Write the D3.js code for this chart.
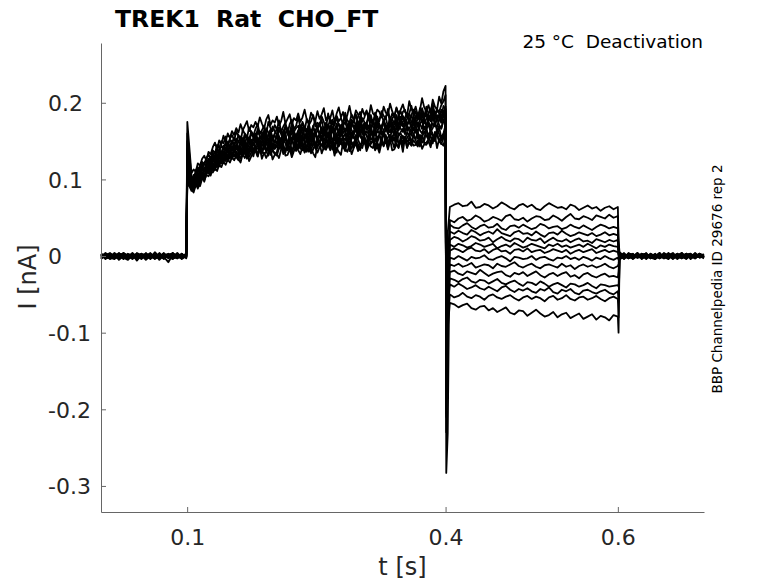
<!DOCTYPE html>
<html>
<head>
<meta charset="utf-8">
<script src="https://cdn.jsdelivr.net/npm/d3@7"></script>
<style>
  body { margin: 0; background: #fff; }
  svg { font-family: "DejaVu Sans", sans-serif; }
  .trace { fill: none; stroke: #000; stroke-width: 1.8; stroke-linejoin: round; }
</style>
</head>
<body>
<svg id="chart"></svg>
<script>
// chart size (browser window)
const width = 778;
const height = 583;
const plot = { left: 101, right: 704, top: 43, bottom: 512 };

// tick values
const xTicks = [0.1, 0.4, 0.6];
const yTicks = [-0.3, -0.2, -0.1, 0, 0.1, 0.2];

// protocol segments [start, end] in s
const preSpan = [0, 0.099];
const actSpan = [0.105, 0.4];
const deactSpan = [0.405, 0.6];
const postSpan = [0.602, 0.7];
const onTime = 0.1002;
const offTime = 0.4008;
const dipTime = 0.4025;
const endTime = 0.6008;

// currents in pA, one row per sweep
const sweepPre = [
  [1,-2,3,0,-4,2,-1,-3,4,1,-2,0,3,-5,1,2,-1,-3,2,0],
  [-3,0,2,-1,4,-2,-5,1,0,3,-1,2,-4,0,1,-2,4,-1,-3,1],
  [2,-1,-3,1,0,3,-2,2,-6,1,3,-1,0,-2,4,-3,1,0,2,-2],
  [0,3,-2,-4,2,1,-1,3,-2,-1,0,4,-3,2,-1,-8,2,1,-2,0],
  [-1,2,1,-3,-1,4,0,-2,3,-4,2,1,-2,0,3,-1,-4,2,1,-1],
  [3,-4,0,2,-2,-1,3,1,-3,2,-1,-2,5,-1,0,2,-3,1,-1,2],
  [-2,1,4,-1,1,-3,2,-4,0,1,-2,3,-1,-3,2,0,1,-2,3,-3],
  [1,0,-2,3,-5,0,1,2,-1,-3,4,-2,0,1,-4,2,3,-1,0,1],
  [-4,2,1,0,2,-1,-3,0,2,1,-5,0,2,-2,1,3,-2,0,-1,2],
  [2,-3,-1,4,0,-2,1,-1,3,-2,0,-1,-3,4,-2,1,0,2,-4,0],
  [0,1,-4,-1,3,2,-2,4,-1,0,-3,2,1,-1,-2,0,4,-3,1,-1],
  [-1,-2,2,1,-3,4,0,-1,-2,3,1,-4,2,0,3,-1,-2,1,0,3],
  [3,1,-1,-2,1,-4,2,0,1,-2,2,0,-1,3,-3,1,-1,4,-2,-1],
  [-2,4,0,-3,1,0,-2,3,-1,2,-1,1,-2,-1,0,2,-3,-1,3,-2]
];

const sweepOn = [175, 160, 150, 140, 130, 125, 120, 115, 110, 108, 105, 100, 98, 95];

const sweepAct = [
  [108,113,110,121,118,127,131,124,136,133, 142,148,139,151,146,157,149,160,154,163, 158,167,161,172,164,170,176,163,171,168,
   175,169,181,173,166,178,184,171,177,174, 182,170,176,188,173,179,185,172,180,177, 186,175,181,191,178,174,187,182,176,189,
   179,185,193,177,183,180,190,175,186,194, 181,188,176,184,196,182,179,190,185,178, 192,184,189,180,197,186,183,191,188,181,
   195,187,184,199,189,182,193,186,191,198, 188,184,202,192,187,195,183,190,206,194, 189,197,186,204,195,191,208,199,215,222],
  [104,99,112,116,109,123,119,128,133,126, 138,134,145,141,150,147,156,143,153,158, 151,162,157,149,165,159,154,168,161,157,
   166,172,160,164,170,158,175,167,163,171, 165,177,162,169,174,160,172,178,166,170, 181,168,173,164,179,171,176,184,169,174,
   170,182,175,167,186,173,178,171,183,176, 180,172,187,177,174,185,179,169,182,188, 175,181,190,178,184,172,187,180,176,189,
   183,179,192,177,186,181,194,184,178,188, 191,180,186,196,183,189,178,193,187,182, 195,186,190,199,184,192,188,197,202,210],
  [98,106,103,111,117,112,121,126,120,129, 134,129,139,136,144,140,148,145,152,147, 155,149,158,153,147,160,156,151,163,158,
   154,166,159,162,152,167,161,157,169,163, 158,168,164,155,171,166,160,173,162,167, 170,161,175,168,164,172,158,169,176,166,
   171,177,163,174,169,179,165,172,181,170, 168,176,183,171,166,178,174,185,172,169, 180,175,171,186,177,173,183,168,179,184,
   176,182,188,174,179,185,171,183,189,178, 181,187,176,184,191,180,186,178,193,183, 188,179,185,194,182,190,186,180,196,191],
  [102,97,108,114,107,118,122,116,127,124, 131,136,128,140,134,144,139,149,142,151, 146,153,149,156,144,158,152,147,160,155,
   150,162,157,153,164,148,159,165,154,160, 166,156,151,163,168,159,154,167,161,157, 164,170,158,165,161,172,156,167,163,169,
   174,162,168,159,171,166,176,163,169,173, 160,170,175,165,162,177,168,172,164,179, 170,166,174,180,167,173,169,182,171,165,
   176,181,168,174,179,172,184,170,177,183, 173,179,186,175,171,182,178,188,174,180, 185,176,182,189,178,184,180,191,183,195],
  [95,101,106,99,112,117,110,121,125,119, 130,125,135,138,132,143,137,146,141,149, 144,151,140,148,154,146,157,150,143,155,
   160,149,156,152,162,147,158,163,151,157, 153,165,159,150,161,166,155,160,164,152, 163,158,168,154,162,166,159,170,157,164,
   161,168,156,165,171,160,167,163,173,158, 166,171,162,168,175,164,160,172,167,177, 163,170,174,166,179,169,165,176,171,168,
   178,170,167,181,173,176,169,183,172,175, 180,171,177,184,174,169,182,178,186,173, 179,185,176,182,188,177,184,180,190,186],
  [99,94,104,109,103,115,112,120,118,124, 127,132,126,137,131,141,146,138,144,149, 143,139,150,146,153,141,148,155,145,151,
   157,147,153,159,144,156,150,161,152,148, 160,155,151,163,157,146,159,165,154,158, 152,162,167,156,160,154,165,158,163,169,
   157,164,160,166,155,170,162,159,168,163, 171,160,165,169,158,173,167,163,176,161, 168,174,165,170,162,178,167,172,169,164,
   175,171,168,180,166,173,177,170,182,169, 176,172,179,167,183,174,170,178,185,175, 171,181,177,186,173,179,184,176,182,192],
  [92,98,95,105,110,103,114,118,112,121, 126,121,131,128,136,133,140,135,143,138, 145,141,137,148,143,151,139,146,152,144,
   149,155,142,150,146,157,152,141,154,148, 158,147,153,150,160,144,155,151,162,149, 156,161,150,158,153,164,148,157,162,154,
   159,152,166,157,161,155,168,151,160,164, 156,167,162,158,170,155,163,168,160,172, 159,165,171,161,167,157,174,164,160,169,
   175,163,168,161,172,166,177,164,170,173, 162,171,176,167,164,178,169,173,166,180, 170,175,167,182,172,168,179,174,184,188],
  [96,91,101,106,100,111,115,108,119,116, 123,129,120,133,127,137,131,141,136,144, 139,146,135,142,149,138,145,150,141,147,
   152,143,148,155,140,151,146,157,144,150, 147,156,142,153,158,145,150,154,143,157, 160,148,155,151,162,146,157,153,159,149,
   156,163,150,158,154,165,148,160,157,151, 163,155,160,167,152,161,158,166,154,162, 168,157,163,159,170,155,164,161,172,158,
   165,169,160,173,163,167,158,171,166,162, 174,164,168,161,176,167,163,172,178,165, 170,175,166,173,169,180,171,167,177,183],
  [90,95,99,93,104,108,102,113,117,111, 121,117,126,123,131,128,135,130,138,133, 140,136,131,142,138,145,134,141,147,137,
   144,149,139,146,142,151,136,148,144,140, 150,145,141,153,147,138,149,155,143,146, 152,144,157,148,141,154,150,159,145,151,
   147,156,143,153,160,149,145,157,152,162, 148,155,159,151,146,161,154,150,163,156, 152,165,157,149,161,155,167,153,158,163,
   156,168,160,154,165,158,170,157,162,166, 159,171,163,157,168,161,174,164,160,169, 165,172,162,167,175,163,170,166,177,172],
  [94,89,98,104,97,109,106,114,111,120, 118,124,120,129,125,133,129,137,132,140, 135,142,137,133,144,139,146,135,141,148,
   139,145,150,137,143,148,141,152,138,146, 143,151,140,148,153,144,139,150,155,142, 147,153,145,140,155,149,144,157,146,151,
   148,156,142,152,158,147,150,145,159,153, 146,155,151,160,144,153,157,149,155,162, 150,156,147,159,154,151,163,148,157,153,
   161,150,155,158,152,164,149,157,160,154, 151,162,156,148,159,165,153,158,155,163, 157,152,166,159,155,162,168,154,160,171],
  [88,93,97,91,102,106,100,110,114,108, 118,115,123,120,128,125,132,127,135,130, 137,133,128,139,135,142,131,138,144,134,
   137,141,144,134,148,139,143,136,146,140, 143,140,152,146,135,144,150,138,142,147, 140,156,143,147,151,138,145,154,141,149,
   149,157,142,150,146,155,139,144,153,148, 151,156,141,147,154,149,143,158,152,145, 148,153,145,160,152,155,144,150,159,146,
   162,155,144,158,149,153,161,146,151,157, 149,154,160,146,158,152,163,148,156,150, 168,152,161,157,153,166,159,151,155,164],
  [91,86,95,100,94,105,103,110,108,115, 114,119,116,124,121,128,124,131,127,134, 130,136,132,127,138,133,140,129,135,141,
   140,132,146,135,142,137,131,144,139,133, 136,149,144,133,138,147,142,134,145,137, 145,140,148,138,143,150,134,139,147,141,
   150,144,147,139,153,141,146,136,151,143, 150,141,145,154,137,148,142,152,146,138, 153,149,142,157,146,152,140,148,143,155,
   143,158,146,154,150,141,156,147,151,144, 156,149,153,147,160,151,145,157,148,152, 164,159,147,155,150,161,149,152,158,146],
  [85,90,94,88,99,103,97,107,111,105, 115,112,120,117,125,122,129,124,131,127, 133,129,125,136,131,138,127,134,139,130,
   143,130,140,137,133,136,141,132,138,134, 131,141,147,136,140,142,138,134,145,139, 146,142,138,150,136,144,137,148,141,135,
   142,146,139,152,145,143,149,140,135,151, 150,143,137,151,146,140,148,153,138,144, 147,155,140,148,143,141,154,145,139,150,
   144,153,139,150,157,152,146,141,156,148, 153,141,155,149,144,145,151,143,158,147, 148,152,157,147,162,159,150,146,154,160],
  [87,83,92,97,91,101,99,106,104,110, 109,114,111,119,116,123,119,126,122,129, 125,131,127,122,133,128,135,124,130,136,
   137,130,141,127,135,128,134,139,126,132, 133,128,139,144,131,132,140,129,137,142, 138,133,143,135,140,136,142,134,129,145,
   148,134,142,139,145,138,146,131,141,136, 132,149,140,136,145,133,141,147,137,143, 141,152,137,144,148,150,138,143,135,147,
   145,149,141,153,138,139,146,142,151,136, 155,142,148,144,151,147,143,152,140,146, 145,150,142,154,158,141,153,147,144,156]
];

const sweepOff = [-230, -283, -210, -200, -190, -205, -180, -195, -170, -185, -160, -175, -150, -165];
const sweepDip = [30, -232, 0, -10, -20, -30, -40, -45, -50, -60, -65, -70, -85, -95];

const sweepDeact = [
  [64,67,69,65,66,71,63,64,68,66,62,65,70,67,63,61,66,68,64,67,62,60,65,69,66,63,64,61,67,65,60,63,66,62,64,59,63,65,61,64],
  [47,44,49,51,46,48,53,50,45,47,51,49,46,52,54,48,47,50,45,49,52,51,47,48,53,50,46,51,55,49,48,52,50,47,53,51,49,54,50,52],
  [41,37,36,40,43,38,35,39,41,37,38,42,36,34,39,40,37,41,38,35,37,42,40,36,38,39,35,37,41,38,36,40,37,34,38,41,39,36,38,36],
  [32,29,33,30,28,34,31,27,30,32,29,35,30,28,26,31,33,29,30,27,32,28,25,30,31,28,33,29,26,28,31,29,27,30,26,28,31,27,29,27],
  [21,25,23,19,22,26,24,20,21,24,18,22,25,21,19,23,22,18,24,21,20,23,17,21,24,20,19,22,18,21,23,19,20,17,22,20,18,21,19,21],
  [15,12,16,14,11,13,17,15,12,14,16,10,13,15,12,17,14,11,13,16,14,12,10,15,13,16,12,14,11,13,15,12,16,13,10,14,12,15,13,12],
  [7,10,8,5,9,11,7,6,9,4,8,10,6,7,3,8,9,6,10,5,7,8,4,6,9,7,5,8,3,6,8,5,7,9,4,6,8,5,7,5],
  [-2,-4,0,-3,-6,-1,-3,-2,1,-4,-5,-2,0,-3,-7,-1,-2,-4,-3,0,-5,-2,-1,-4,-6,-2,-3,0,-4,-2,-5,-1,-3,-6,-2,-4,0,-3,-5,-2],
  [-11,-13,-10,-14,-12,-9,-15,-13,-11,-12,-16,-10,-13,-14,-11,-8,-13,-15,-12,-10,-14,-16,-12,-11,-13,-15,-10,-14,-12,-17,-13,-11,-14,-12,-15,-13,-10,-14,-16,-13],
  [-21,-19,-23,-25,-20,-22,-24,-18,-22,-26,-23,-21,-20,-25,-27,-22,-24,-21,-26,-23,-20,-25,-28,-24,-22,-26,-23,-21,-27,-25,-29,-24,-22,-26,-28,-25,-23,-27,-26,-28],
  [-29,-31,-34,-30,-28,-33,-35,-31,-32,-36,-33,-30,-35,-37,-34,-32,-36,-39,-34,-35,-38,-33,-36,-40,-37,-35,-38,-41,-36,-37,-40,-38,-35,-39,-42,-37,-38,-40,-39,-38],
  [-37,-40,-36,-39,-43,-41,-38,-42,-44,-40,-43,-46,-41,-39,-44,-47,-43,-45,-42,-46,-48,-43,-45,-41,-47,-49,-44,-46,-43,-48,-50,-45,-44,-47,-49,-46,-44,-48,-50,-46],
  [-50,-54,-52,-48,-53,-55,-51,-53,-57,-52,-50,-54,-56,-53,-51,-55,-58,-54,-52,-56,-53,-55,-59,-54,-52,-57,-55,-51,-56,-58,-54,-53,-57,-55,-52,-56,-59,-55,-53,-56],
  [-61,-63,-67,-64,-62,-68,-70,-66,-65,-71,-68,-73,-70,-67,-74,-76,-71,-72,-78,-74,-70,-75,-79,-77,-73,-80,-76,-74,-81,-78,-75,-82,-79,-76,-83,-78,-80,-84,-77,-79]
];

const sweepEnd = [20, 15, 10, 8, 5, 3, 0, -5, -10, -20, -40, -60, -80, -100];

const sweepPost = [
  [4,-2,1,-3,2,0,-1,3,-4,1,2,-2,0,3,-1,-3,2,1,-2,0],
  [-3,2,-1,0,3,-4,1,2,-1,-2,4,0,-3,1,2,-1,0,-2,3,1],
  [1,-4,3,2,-2,1,-3,0,2,-1,-2,3,1,-4,0,2,-1,3,-2,0],
  [-1,3,-2,-1,4,-2,0,-3,1,3,-1,-4,2,0,-1,3,-2,1,0,-3],
  [5,0,-3,1,-1,2,3,-2,-4,0,1,2,-3,1,4,-2,0,-1,2,-1],
  [-2,1,2,-4,0,3,-1,1,-2,4,-3,0,1,-1,-2,2,3,-3,1,0],
  [2,-3,0,3,-2,-1,4,-3,1,0,2,-2,-1,3,0,-4,1,2,-1,2],
  [-4,2,1,-1,3,-3,0,2,-2,1,-1,4,-2,0,-3,1,2,-1,3,-2],
  [3,-1,-2,2,0,1,-4,3,0,-2,1,-1,3,-3,2,0,-2,4,-1,1],
  [-1,4,-3,0,-2,2,1,-1,3,-3,0,2,-4,1,0,3,-2,-1,2,-2],
  [1,-2,3,-3,2,0,-2,1,-1,4,-2,-1,0,2,-3,1,-1,0,3,-1],
  [-5,1,0,2,-1,3,-2,-1,2,0,-3,1,4,-2,1,-1,0,-3,1,2],
  [2,0,-1,-3,4,-1,2,-2,1,-3,3,0,-1,2,-2,3,-4,1,0,-1],
  [0,-3,4,1,-2,-1,2,0,-3,2,-1,3,-2,-1,4,-2,1,-3,2,1]
];

// samples of one segment spread evenly over its span
function addSegment(pts, values, span) {
  const step = (span[1] - span[0]) / (values.length - 1);
  values.forEach((v, i) => pts.push([span[0] + i * step, v / 1000]));
}

function sweepPoints(k) {
  const pts = [];
  addSegment(pts, sweepPre[k], preSpan);
  pts.push([onTime, sweepOn[k] / 1000]);
  addSegment(pts, sweepAct[k], actSpan);
  pts.push([offTime, sweepOff[k] / 1000]);
  pts.push([dipTime, sweepDip[k] / 1000]);
  addSegment(pts, sweepDeact[k], deactSpan);
  pts.push([endTime, sweepEnd[k] / 1000]);
  addSegment(pts, sweepPost[k], postSpan);
  return pts;
}

const svg = d3.select('svg#chart').attr('width', width).attr('height', height);

const x = d3.scaleLinear().domain([0, 0.7]).range([plot.left, plot.right]);
const y = d3.scaleLinear().domain([-0.334, 0.278]).range([plot.bottom, plot.top]);

const line = d3.line().x(d => x(d[0])).y(d => y(d[1]));

// traces
svg.append('g')
  .selectAll('path')
  .data(d3.range(sweepAct.length).map(sweepPoints))
  .enter().append('path')
  .attr('class', 'trace')
  .attr('d', line);

// y axis, ticks pointing inward
const yAxis = svg.append('g')
  .attr('transform', 'translate(' + plot.left + ',0)')
  .call(d3.axisLeft(y).tickValues(yTicks).tickSizeInner(-5).tickSizeOuter(0)
    .tickFormat(d => d === 0 ? '0' : d.toFixed(1)));
yAxis.selectAll('text')
  .attr('x', -53).attr('dy', '0.36em')
  .attr('text-anchor', 'start')
  .attr('font-size', 22).attr('font-family', 'DejaVu Sans').attr('fill', '#262626');

// x axis
const xAxis = svg.append('g')
  .attr('transform', 'translate(0,' + plot.bottom + ')')
  .call(d3.axisBottom(x).tickValues(xTicks).tickSizeInner(-5).tickSizeOuter(0).tickPadding(17)
    .tickFormat(d => d.toFixed(1)));
xAxis.selectAll('text')
  .attr('font-size', 22).attr('font-family', 'DejaVu Sans').attr('fill', '#262626');

svg.selectAll('.domain, .tick line').attr('stroke', '#666');

// labels
svg.append('text')
  .attr('x', (plot.left + plot.right) / 2).attr('y', 575)
  .attr('text-anchor', 'middle').attr('font-size', 24).attr('fill', '#262626')
  .text('t [s]');

svg.append('text')
  .attr('transform', 'translate(36,277) rotate(-90)')
  .attr('text-anchor', 'middle').attr('font-size', 24).attr('fill', '#262626')
  .text('I [nA]');

svg.append('text')
  .attr('x', 115).attr('y', 27)
  .attr('font-size', 23.5).attr('font-weight', 'bold')
  .style('white-space', 'pre')
  .text('TREK1  Rat  CHO_FT');

svg.append('text')
  .attr('x', 703).attr('y', 48)
  .attr('text-anchor', 'end').attr('font-size', 18.5)
  .style('white-space', 'pre')
  .text('25 °C  Deactivation');

svg.append('text')
  .attr('transform', 'translate(722,279) rotate(-90)')
  .attr('text-anchor', 'middle').attr('font-size', 13.5)
  .text('BBP Channelpedia ID 29676 rep 2');
</script>
</body>
</html>
